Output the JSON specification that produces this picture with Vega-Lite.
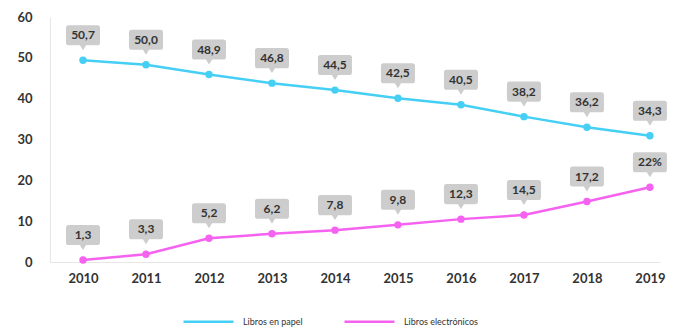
{
  "$schema": "https://vega.github.io/schema/vega-lite/v6.json",
  "width": 610,
  "height": 245,
  "autosize": "none",
  "padding": {"left": 50, "top": 17, "right": 18, "bottom": 72},
  "config": {"view": {"stroke": null}, "font": "Lato"},
  "data": {"values": [
    {"year": 2010, "series": "Libros en papel", "value": 49.4, "label": "50,7"},
    {"year": 2011, "series": "Libros en papel", "value": 48.3, "label": "50,0"},
    {"year": 2012, "series": "Libros en papel", "value": 45.9, "label": "48,9"},
    {"year": 2013, "series": "Libros en papel", "value": 43.8, "label": "46,8"},
    {"year": 2014, "series": "Libros en papel", "value": 42.1, "label": "44,5"},
    {"year": 2015, "series": "Libros en papel", "value": 40.1, "label": "42,5"},
    {"year": 2016, "series": "Libros en papel", "value": 38.5, "label": "40,5"},
    {"year": 2017, "series": "Libros en papel", "value": 35.6, "label": "38,2"},
    {"year": 2018, "series": "Libros en papel", "value": 33.0, "label": "36,2"},
    {"year": 2019, "series": "Libros en papel", "value": 30.9, "label": "34,3"},
    {"year": 2010, "series": "Libros electrónicos", "value": 0.5, "label": "1,3"},
    {"year": 2011, "series": "Libros electrónicos", "value": 1.9, "label": "3,3"},
    {"year": 2012, "series": "Libros electrónicos", "value": 5.8, "label": "5,2"},
    {"year": 2013, "series": "Libros electrónicos", "value": 6.9, "label": "6,2"},
    {"year": 2014, "series": "Libros electrónicos", "value": 7.8, "label": "7,8"},
    {"year": 2015, "series": "Libros electrónicos", "value": 9.1, "label": "9,8"},
    {"year": 2016, "series": "Libros electrónicos", "value": 10.5, "label": "12,3"},
    {"year": 2017, "series": "Libros electrónicos", "value": 11.5, "label": "14,5"},
    {"year": 2018, "series": "Libros electrónicos", "value": 14.8, "label": "17,2"},
    {"year": 2019, "series": "Libros electrónicos", "value": 18.3, "label": "22%"}
  ]},
  "encoding": {
    "x": {
      "field": "year", "type": "quantitative",
      "scale": {"domain": [2009.476, 2019.16], "nice": false, "zero": false},
      "axis": {
        "title": null, "values": [2010, 2011, 2012, 2013, 2014, 2015, 2016, 2017, 2018, 2019],
        "format": "d", "grid": false, "ticks": false, "domainColor": "#e6e6e6",
        "labelPadding": 10, "labelFontSize": 13, "labelFontWeight": "bold", "labelColor": "#333333"
      }
    },
    "y": {
      "field": "value", "type": "quantitative",
      "scale": {"domain": [0, 60], "nice": false},
      "axis": {
        "title": null, "values": [0, 10, 20, 30, 40, 50, 60], "grid": false, "ticks": false,
        "domainColor": "#e6e6e6", "labelPadding": 18, "labelFontSize": 13,
        "labelFontWeight": "bold", "labelColor": "#333333"
      }
    },
    "color": {
      "field": "series", "type": "nominal",
      "scale": {"domain": ["Libros en papel", "Libros electrónicos"], "range": ["#45cff5", "#f562f0"]},
      "legend": {
        "title": null, "orient": "none", "legendX": 132, "legendY": 278, "direction": "horizontal",
        "symbolType": "stroke", "symbolSize": 2500, "symbolStrokeWidth": 2.5,
        "labelFontSize": 9, "labelColor": "#333333", "labelOffset": 8, "columnPadding": 36
      }
    }
  },
  "layer": [
    {"mark": {"type": "line", "strokeWidth": 2.5}},
    {"mark": {"type": "point", "filled": true, "size": 55, "opacity": 1}},
    {
      "mark": {
        "type": "point", "filled": true, "opacity": 1, "size": 1156, "yOffset": -25,
        "shape": "M-0.85,-0.59 L0.85,-0.59 Q1,-0.59 1,-0.44 L1,0.44 Q1,0.59 0.85,0.59 L0.18,0.59 L0,0.88 L-0.18,0.59 L-0.85,0.59 Q-1,0.59 -1,0.44 L-1,-0.44 Q-1,-0.59 -0.85,-0.59 Z"
      },
      "encoding": {"color": {"value": "#cdcdcd"}}
    },
    {
      "mark": {"type": "text", "dy": -25, "fontSize": 12, "fontWeight": "bold"},
      "encoding": {"text": {"field": "label"}, "color": {"value": "#333333"}}
    }
  ]
}
